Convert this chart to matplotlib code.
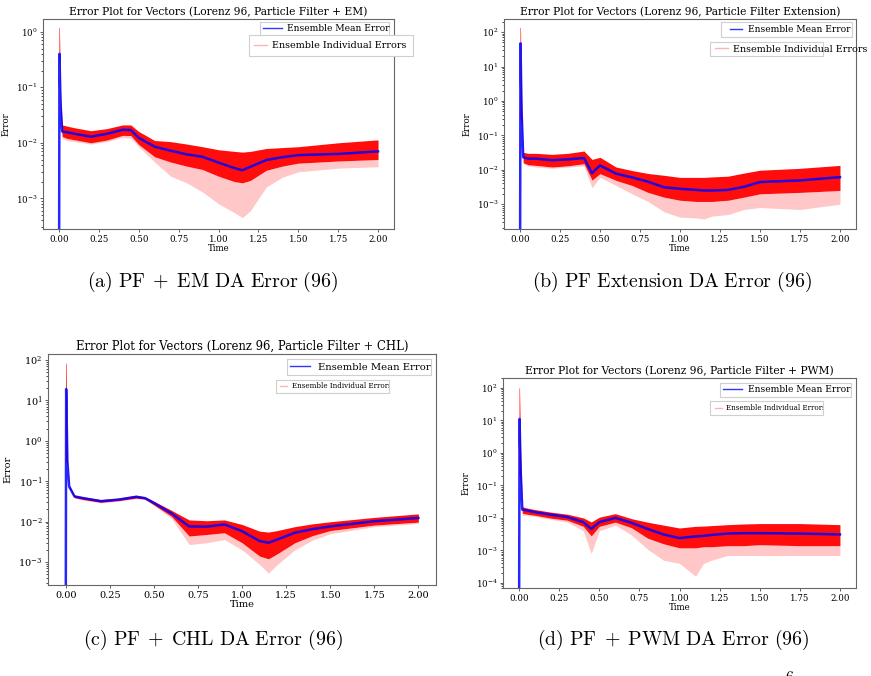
import numpy as np
import matplotlib
matplotlib.use("Agg")
import matplotlib.pyplot as plt
from matplotlib.lines import Line2D
from matplotlib.legend import Legend
from matplotlib.patches import Rectangle
from matplotlib.ticker import LogLocator, FixedLocator, FormatStrFormatter, NullFormatter

W, H = 871, 676

plt.rcParams['font.family'] = 'DejaVu Serif'
plt.rcParams['mathtext.fontset'] = 'dejavuserif'

# time samples
time = [0, 0.003, 0.01, 0.02, 0.05, 0.1, 0.2, 0.3, 0.4, 0.45, 0.5, 0.6, 0.7,
        0.8, 0.9, 1.0, 1.1, 1.15, 1.2, 1.3, 1.4, 1.5, 1.75, 2.0]

# (a) PF + EM
mean_a = [1e-6, 0.4, 0.05, 0.016, 0.0155, 0.0145, 0.0129, 0.0145, 0.0172, 0.017, 0.0123, 0.0085,
          0.0072, 0.0062, 0.0056, 0.0044, 0.0035, 0.0032, 0.0037, 0.0049, 0.0055, 0.006, 0.0063, 0.007]
hi_a = [1.2, 1.2, 0.08, 0.021, 0.02, 0.0186, 0.0165, 0.018, 0.021, 0.021, 0.016, 0.011,
        0.0105, 0.0095, 0.0085, 0.0075, 0.007, 0.0068, 0.007, 0.0079, 0.0082, 0.0085, 0.010, 0.0113]
lo_a = [0.3, 0.3, 0.03, 0.013, 0.012, 0.0113, 0.010, 0.0112, 0.0136, 0.0135, 0.0093, 0.0056,
        0.0045, 0.0038, 0.0033, 0.0025, 0.002, 0.0019, 0.0021, 0.0032, 0.0038, 0.0043, 0.0047, 0.005]
min_a = [0.3, 0.3, 0.03, 0.012, 0.011, 0.0105, 0.0095, 0.0105, 0.0125, 0.012, 0.0085, 0.0045,
         0.0025, 0.0019, 0.0013, 0.0008, 0.00055, 0.00045, 0.0006, 0.0016, 0.0024, 0.003, 0.0035, 0.0037]

# (b) PF Extension
mean_b = [1e-6, 47, 0.5, 0.023, 0.021, 0.021, 0.019, 0.02, 0.022, 0.008, 0.0134, 0.0077,
          0.006, 0.0045, 0.0031, 0.0028, 0.0026, 0.0025, 0.0025, 0.0026, 0.0032, 0.0044, 0.0049, 0.0061]
hi_b = [137, 137, 1.0, 0.032, 0.03, 0.03, 0.028, 0.03, 0.035, 0.02, 0.023, 0.012,
        0.0095, 0.0078, 0.0069, 0.006, 0.006, 0.006, 0.0062, 0.0065, 0.008, 0.0097, 0.011, 0.0134]
lo_b = [0.3, 0.3, 0.2, 0.016, 0.014, 0.0134, 0.012, 0.013, 0.015, 0.005, 0.0077, 0.0049,
        0.0035, 0.0022, 0.0016, 0.0013, 0.0012, 0.0012, 0.0012, 0.0013, 0.0016, 0.002, 0.0022, 0.0025]
min_b = [0.3, 0.3, 0.2, 0.015, 0.013, 0.012, 0.011, 0.012, 0.013, 0.003, 0.006, 0.0035,
         0.002, 0.0012, 0.0006, 0.00042, 0.0004, 0.00037, 0.00045, 0.0005, 0.0007, 0.0008, 0.0007, 0.001]

# (c) PF + CHL
mean_c = [1e-6, 19, 0.3, 0.074, 0.042, 0.038, 0.032, 0.035, 0.041, 0.038, 0.029, 0.016,
          0.0076, 0.0075, 0.0085, 0.0058, 0.0033, 0.003, 0.0036, 0.0053, 0.0065, 0.0076, 0.0102, 0.0123]
hi_c = [83, 83, 0.35, 0.08, 0.045, 0.041, 0.035, 0.038, 0.045, 0.041, 0.032, 0.019,
        0.011, 0.0105, 0.011, 0.0085, 0.0058, 0.0055, 0.006, 0.0075, 0.0088, 0.0099, 0.0127, 0.0155]
lo_c = [0.3, 0.3, 0.25, 0.068, 0.039, 0.035, 0.03, 0.033, 0.038, 0.036, 0.026, 0.0135,
        0.0044, 0.0048, 0.0053, 0.003, 0.0014, 0.0012, 0.0016, 0.003, 0.0045, 0.006, 0.0082, 0.0097]
min_c = [0.3, 0.3, 0.25, 0.066, 0.038, 0.034, 0.029, 0.032, 0.037, 0.035, 0.025, 0.012,
         0.0027, 0.003, 0.0036, 0.002, 0.00087, 0.00053, 0.00087, 0.002, 0.0035, 0.005, 0.0075, 0.009]

# (d) PF + PWM
mean_d = [1e-6, 11, 0.3, 0.018, 0.017, 0.015, 0.0125, 0.0107, 0.0074, 0.0046, 0.0074, 0.01,
          0.0071, 0.0046, 0.0031, 0.0024, 0.0027, 0.0028, 0.003, 0.0033, 0.0034, 0.0034, 0.0033, 0.0031]
hi_d = [100, 100, 1.0, 0.022, 0.02, 0.018, 0.015, 0.013, 0.01, 0.0075, 0.0105, 0.0135,
        0.0095, 0.0074, 0.006, 0.0049, 0.0055, 0.0056, 0.0058, 0.0062, 0.0065, 0.0067, 0.0067, 0.0062]
lo_d = [0.2, 0.2, 0.1, 0.014, 0.013, 0.012, 0.0098, 0.0085, 0.0055, 0.0028, 0.0055, 0.0074,
        0.005, 0.0024, 0.0016, 0.0012, 0.0012, 0.0013, 0.0013, 0.0014, 0.0014, 0.0015, 0.0014, 0.0014]
min_d = [0.2, 0.2, 0.1, 0.012, 0.012, 0.011, 0.009, 0.0075, 0.004, 0.0008, 0.004, 0.006,
         0.003, 0.0011, 0.0005, 0.0004, 0.00016, 0.0004, 0.0005, 0.0007, 0.0007, 0.0007, 0.0007, 0.0007]

titles = ["Error Plot for Vectors (Lorenz 96, Particle Filter + EM)",
          "Error Plot for Vectors (Lorenz 96, Particle Filter Extension)",
          "Error Plot for Vectors (Lorenz 96, Particle Filter + CHL)",
          "Error Plot for Vectors (Lorenz 96, Particle Filter + PWM)"]
captions = [r"$\mathrm{(a)\ PF}\;+\;\mathrm{EM\ DA\ Error\ (96)}$",
            r"$\mathrm{(b)\ PF\ Extension\ DA\ Error\ (96)}$",
            r"$\mathrm{(c)\ PF}\;+\;\mathrm{CHL\ DA\ Error\ (96)}$",
            r"$\mathrm{(d)\ PF}\;+\;\mathrm{PWM\ DA\ Error\ (96)}$"]
xticks = [0, 0.25, 0.5, 0.75, 1.0, 1.25, 1.5, 1.75, 2.0]

fig = plt.figure(figsize=(W / 100, H / 100), dpi=100)


def px_rect(l, t, r, b):
    return [l / W, 1 - b / H, (r - l) / W, (b - t) / H]


def boxed_legend(ax, handle, label, box, hx, hlen, tx, size, clip=False):
    # legend drawn without frame, plus a plain box behind it (as in the scanned figure)
    x0, y0, x1, y1 = box
    em = size * 100 / 72
    rect = Rectangle((x0 / W, 1 - y1 / H), (x1 - x0) / W, (y1 - y0) / H,
                     transform=fig.transFigure, facecolor='white', edgecolor='#cfcfcf',
                     lw=0.8, zorder=4.9, clip_on=False)
    ax.add_patch(rect)
    leg = Legend(ax, [handle], [label], loc='center left',
                 bbox_to_anchor=(hx / W, 1 - (y0 + y1) / 2 / H), bbox_transform=fig.transFigure,
                 frameon=False, fontsize=size, borderpad=0, borderaxespad=0,
                 handlelength=hlen / em, handletextpad=(tx - hx - hlen) / em)
    if clip:
        for t in leg.get_texts():
            t.set_clip_path(rect)
    ax.add_artist(leg)


panels = [
    dict(pos=(43, 19, 394, 229), data=(mean_a, hi_a, lo_a, min_a), ylim=(2.8e-4, 1.7),
         fs=6.2, tfs=7.7,
         leg1=((260, 22, 389, 35), 263, 19, 287, 6.6),
         leg2=((249, 35, 413, 56), 254, 13, 272, 6.9, False)),
    dict(pos=(504, 19, 856, 229), data=(mean_b, hi_b, lo_b, min_b), ylim=(1.9e-4, 240),
         fs=6.2, tfs=7.7,
         leg1=((721, 22, 852, 37), 730, 12, 748, 6.6),
         leg2=((710, 42, 823, 56), 715, 13, 733, 6.9, False)),
    dict(pos=(48, 354, 436, 585), data=(mean_c, hi_c, lo_c, min_c), ylim=(2.7e-4, 140),
         fs=7.0, tfs=8.4,
         leg1=((287, 359, 431, 375), 290, 20, 318, 7.2),
         leg2=((276, 380, 389, 393), 280, 7, 292, 5.1, True)),
    dict(pos=(503, 378, 856, 588), data=(mean_d, hi_d, lo_d, min_d), ylim=(7e-5, 200),
         fs=6.2, tfs=7.7,
         leg1=((720, 383, 851, 397), 723, 19, 748, 6.6),
         leg2=((710, 401, 823, 415), 715, 7, 726, 5.1, True)),
]

for i, p in enumerate(panels):
    ax = fig.add_axes(px_rect(*p['pos']))
    mean, hi, lo, mn = p['data']
    ax.fill_between(time, mn, lo, color='red', alpha=0.22, lw=0)
    ax.fill_between(time, lo, hi, color='red', alpha=0.95, lw=0)
    ax.plot(time, mean, color='blue', lw=1.8, alpha=0.85)
    ax.set_yscale('log')
    ax.set_xlim(-0.1, 2.1)
    ax.set_ylim(*p['ylim'])
    ax.xaxis.set_major_locator(FixedLocator(xticks))
    ax.xaxis.set_major_formatter(FormatStrFormatter('%.2f'))
    ax.yaxis.set_major_locator(LogLocator(base=10, numticks=20))
    ax.yaxis.set_minor_locator(LogLocator(base=10, subs=np.arange(2, 10), numticks=100))
    ax.yaxis.set_minor_formatter(NullFormatter())
    fs = p['fs']
    ax.tick_params(labelsize=fs, length=2.5, width=0.6, pad=1.5, color='#444444')
    ax.tick_params(which='minor', length=1.5, width=0.5)
    for s in ax.spines.values():
        s.set_color('#666666')
        s.set_linewidth(0.8)
    ax.set_title(titles[i], fontsize=p['tfs'], pad=3)
    ax.set_xlabel('Time', fontsize=fs, labelpad=0)
    ax.set_ylabel('Error', fontsize=fs)
    ax.yaxis.set_label_coords(-0.092, 0.5)

    box, hx, hlen, tx, size = p['leg1']
    boxed_legend(ax, Line2D([], [], color='blue', lw=1.0, alpha=0.8), 'Ensemble Mean Error',
                 box, hx, hlen, tx, size)
    box, hx, hlen, tx, size, clip = p['leg2']
    boxed_legend(ax, Line2D([], [], color='red', lw=1.0, alpha=0.3), 'Ensemble Individual Errors',
                 box, hx, hlen, tx, size, clip)

cap_pos = [(212, 282), (672, 282), (213, 640), (673, 640)]
for (cx, cy), cap in zip(cap_pos, captions):
    fig.text(cx / W, 1 - cy / H, cap, ha='center', va='center', fontsize=14.3,
             math_fontfamily='cm')

# page number, cut at the bottom edge
fig.text(790 / W, 1 - 669 / H, r"$\mathrm{6}$", ha='center', va='top', fontsize=11.5,
         math_fontfamily='cm')

fig.savefig('out.png', dpi=100)
